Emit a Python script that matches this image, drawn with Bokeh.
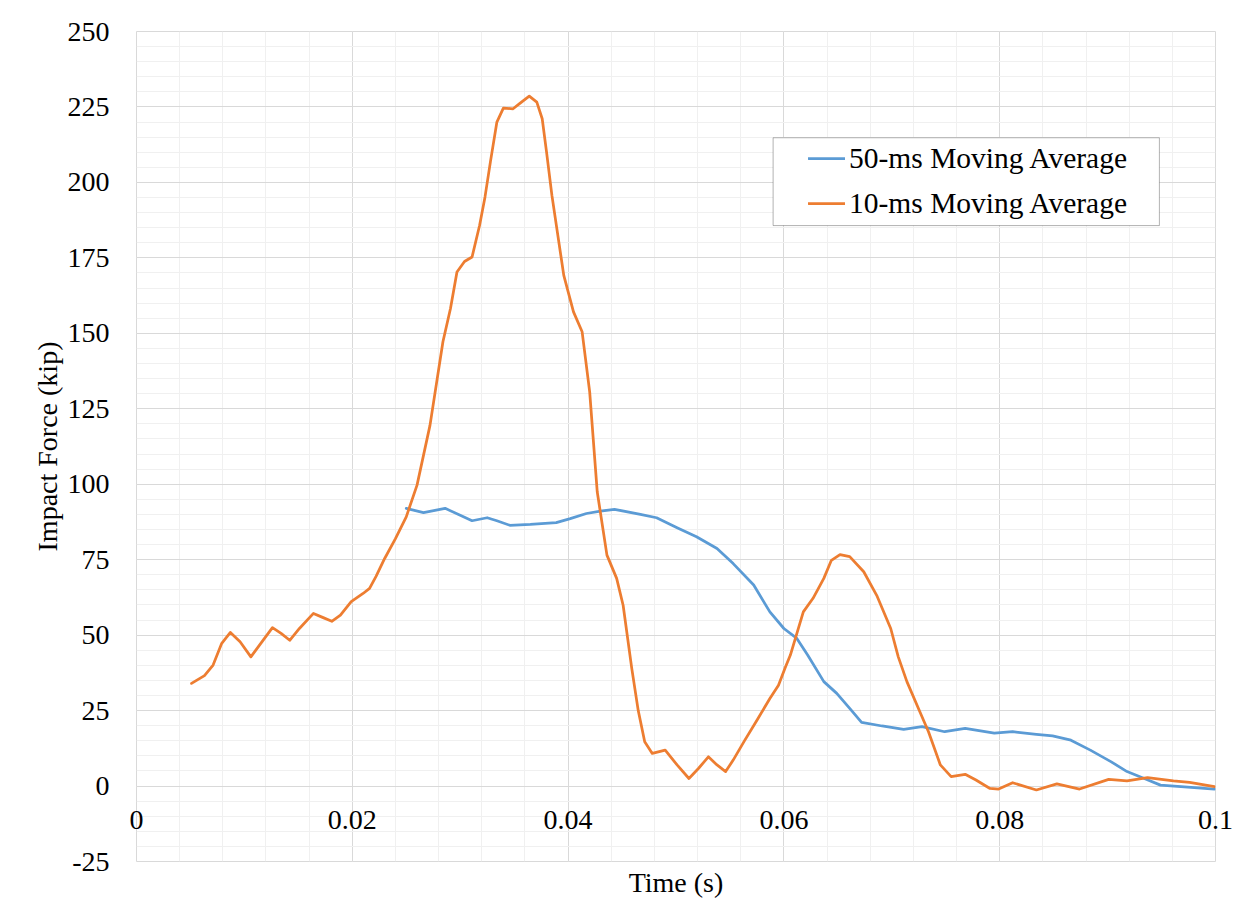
from bokeh.plotting import figure
from bokeh.models import Range1d, SingleIntervalTicker, FixedTicker, Legend, LegendItem, BoxAnnotation
from bokeh.embed import file_html
from bokeh.resources import INLINE

# ---- data ----
t_10ms = [0.0051, 0.0063, 0.0071, 0.0079, 0.0087, 0.0096, 0.0106, 0.0114, 0.0126, 0.0134,
          0.0142, 0.0151, 0.0164, 0.0173, 0.0181, 0.0189, 0.0199, 0.0210, 0.0216, 0.0222,
          0.0230, 0.0240, 0.0250, 0.0260, 0.0272, 0.0284, 0.0291, 0.0297, 0.0304, 0.0311,
          0.0318, 0.0323, 0.0328, 0.0334, 0.0340, 0.0349, 0.0355, 0.0364, 0.0371, 0.0376,
          0.0380, 0.0385, 0.0396, 0.0405, 0.0413, 0.0420, 0.0427, 0.0436, 0.0445, 0.0451,
          0.0459, 0.0465, 0.0471, 0.0478, 0.0490, 0.0501, 0.0512, 0.0521, 0.0530, 0.0538,
          0.0546, 0.0553, 0.0563, 0.0576, 0.0587, 0.0595, 0.0601, 0.0606, 0.0618, 0.0627,
          0.0637, 0.0644, 0.0652, 0.0661, 0.0674, 0.0686, 0.0699, 0.0706, 0.0714, 0.0726,
          0.0734, 0.0745, 0.0755, 0.0768, 0.0778, 0.0791, 0.0799, 0.0812, 0.0834, 0.0853,
          0.0874, 0.0901, 0.0918, 0.0937, 0.0961, 0.0976, 0.0999]
f_10ms = [34.0, 36.6, 40.1, 47.3, 50.9, 47.8, 42.8, 46.7, 52.5, 50.6,
          48.3, 52.2, 57.2, 55.8, 54.6, 56.6, 61.1, 63.8, 65.5, 69.5,
          75.4, 82.0, 89.2, 99.7, 119.5, 147.2, 158.2, 170.3, 173.8, 175.3,
          185.8, 195.2, 206.8, 220.0, 224.6, 224.4, 226.1, 228.6, 226.6, 221.1,
          210.1, 195.7, 169.2, 157.1, 150.5, 130.6, 97.5, 76.5, 68.8, 59.9,
          39.0, 25.0, 14.7, 10.8, 11.9, 7.0, 2.5, 5.9, 9.7, 7.0,
          4.8, 8.6, 14.7, 22.4, 29.0, 33.4, 39.0, 43.4, 57.7, 62.2,
          68.8, 74.8, 76.7, 76.0, 71.0, 63.2, 52.2, 42.8, 34.6, 24.6,
          18.0, 7.0, 3.1, 3.9, 2.0, -0.8, -1.0, 1.1, -1.3, 0.7,
          -1.0, 2.2, 1.7, 2.8, 1.7, 1.2, -0.2]

t_50ms = [0.0250, 0.0266, 0.0286, 0.0300, 0.0311, 0.0325, 0.0334, 0.0346, 0.0365, 0.0389,
          0.0402, 0.0417, 0.0430, 0.0443, 0.0467, 0.0482, 0.0501, 0.0519, 0.0538, 0.0553,
          0.0572, 0.0587, 0.0600, 0.0612, 0.0622, 0.0637, 0.0649, 0.0661, 0.0672, 0.0691,
          0.0711, 0.0728, 0.0749, 0.0768, 0.0795, 0.0812, 0.0834, 0.0849, 0.0866, 0.0884,
          0.0903, 0.0918, 0.0934, 0.0949, 0.0968, 0.0999]
f_50ms = [92.0, 90.6, 92.0, 89.7, 87.9, 88.9, 87.9, 86.4, 86.7, 87.3,
          88.6, 90.3, 91.1, 91.7, 90.0, 88.9, 85.6, 82.6, 78.7, 73.7,
          66.6, 57.7, 52.2, 48.9, 43.4, 34.6, 30.7, 25.7, 21.1, 19.9,
          18.8, 19.7, 18.0, 19.1, 17.5, 18.0, 17.1, 16.6, 15.2, 11.9,
          8.1, 4.8, 2.5, 0.3, -0.2, -1.0]

x_ticks = [0, 0.02, 0.04, 0.06, 0.08, 0.1]
x_tick_labels = ["0", "0.02", "0.04", "0.06", "0.08", "0.1"]
series_names = ["50-ms Moving Average", "10-ms Moving Average"]

FONT = "Liberation Serif"
BLUE = "#5B9BD5"
ORANGE = "#ED7D31"

p = figure(width=1243, height=904, output_backend="svg", toolbar_location=None,
           x_range=Range1d(0, 0.1), y_range=Range1d(-25, 250),
           min_border_left=136, min_border_right=28, min_border_top=31, min_border_bottom=43)
p.background_fill_color = "white"
p.border_fill_color = "white"
p.outline_line_color = "#d9d9d9"

p.xaxis.ticker = FixedTicker(ticks=x_ticks)
p.xaxis.major_label_overrides = dict(zip(x_ticks, x_tick_labels))
p.xgrid.ticker = SingleIntervalTicker(interval=0.02, num_minor_ticks=5)
p.yaxis.ticker = SingleIntervalTicker(interval=25, num_minor_ticks=5)
p.yaxis.major_label_overrides = {-25: "-25"}

p.xgrid.grid_line_color = "#d9d9d9"
p.ygrid.grid_line_color = "#d9d9d9"
p.xgrid.minor_grid_line_color = "#f0f0f0"
p.ygrid.minor_grid_line_color = "#f0f0f0"

for ax in (p.xaxis, p.yaxis):
    ax.axis_line_color = None
    ax.major_tick_line_color = None
    ax.minor_tick_line_color = None
    ax.major_tick_out = 0
    ax.major_tick_in = 0
    ax.minor_tick_out = 0
    ax.minor_tick_in = 0
    ax.major_label_text_font = FONT
    ax.major_label_text_font_size = "28px"
    ax.major_label_text_color = "black"
    ax.axis_label_text_font = FONT
    ax.axis_label_text_font_size = "28px"
    ax.axis_label_text_font_style = "normal"
    ax.axis_label_text_color = "black"

p.yaxis.major_label_standoff = 27
p.yaxis.axis_label = "Impact Force (kip)"
p.yaxis.axis_label_standoff = 2

# x tick labels are pulled up to sit just below the zero line, as in the reference
p.xaxis.major_label_standoff = -51
p.xaxis.axis_label = "Time (s)"
p.xaxis.axis_label_standoff = 35

r50 = p.line(t_50ms, f_50ms, line_color=BLUE, line_width=2.75, line_join="round", line_cap="round")
r10 = p.line(t_10ms, f_10ms, line_color=ORANGE, line_width=2.75, line_join="round", line_cap="round")

box = BoxAnnotation(left=0.0590, right=0.0948, bottom=185.7, top=214.8,
                    fill_color="white", fill_alpha=1.0, line_color="black", line_width=1)
p.add_layout(box)

legend = Legend(items=[LegendItem(label=series_names[0], renderers=[r50]),
                       LegendItem(label=series_names[1], renderers=[r10])],
                location=(672, 641), padding=0, margin=0, spacing=11,
                label_height=34, glyph_height=34, glyph_width=37, label_standoff=4,
                label_text_font=FONT, label_text_font_size="29.5px", label_text_color="black",
                border_line_color=None, background_fill_alpha=0)
p.add_layout(legend, "center")

open("out.html", "w").write(file_html(p, INLINE))
